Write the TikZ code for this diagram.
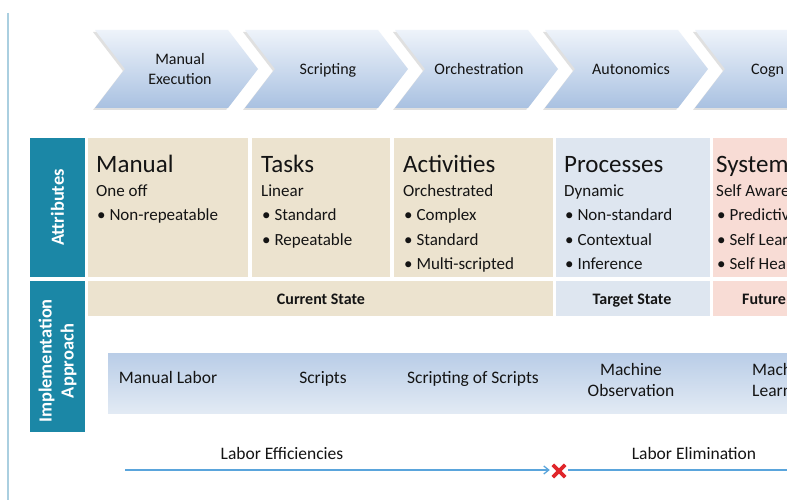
\documentclass[tikz,border=0pt]{standalone}
\usepackage{fontspec}
\setmainfont{Carlito}
\usetikzlibrary{arrows.meta}
\definecolor{teal1}{HTML}{1B87A6}
\definecolor{beige1}{HTML}{ECE3CF}
\definecolor{bluegray1}{HTML}{DEE6F0}
\definecolor{pink1}{HTML}{F8DCD5}
\definecolor{bandtop}{HTML}{B9CDE7}
\definecolor{bandbot}{HTML}{E2EAF4}
\definecolor{chevtop}{HTML}{EEF3FA}
\definecolor{chevbot}{HTML}{A9C1E1}
\definecolor{arrowblue}{HTML}{5AA5DC}
\definecolor{leftline}{HTML}{AACFE0}
\definecolor{txt}{HTML}{141414}
\definecolor{xred}{HTML}{E0262B}
\tikzset{
  chevtext/.style={anchor=base, inner sep=0pt, text=txt, font=\fontsize{16}{16}\selectfont},
  hd/.style={anchor=base west, inner sep=0pt, text=txt, font=\fontsize{25}{25}\selectfont},
  bd/.style={anchor=base west, inner sep=0pt, text=txt, font=\fontsize{17}{17}\selectfont},
  statetext/.style={anchor=base, inner sep=0pt, text=txt, font=\fontsize{16}{16}\selectfont\bfseries},
  bandtext/.style={anchor=base, inner sep=0pt, text=txt, font=\fontsize{17.5}{17.5}\selectfont},
  sidelabel/.style={inner sep=0pt, text=white, rotate=90, align=center, font=\fontsize{18.5}{22}\selectfont\bfseries},
  xm/.style={inner sep=0pt, minimum size=12pt},
}
\begin{document}
\begin{tikzpicture}[x=1pt,y=-1pt]
\useasboundingbox (0,0) rectangle (787,500);
\fill[white] (0,0) rectangle (787,500);
\clip (0,0) rectangle (787,500);
% left line
\draw[leftline, line width=1.2pt] (8,13) -- (8,500);
% chevrons
\foreach \x in {95,245,395,545,695}{
  \fill[black!12] (\x-2,32) -- (\x+131,32) -- (\x+161,71) -- (\x+131,110) -- (\x-2,110) -- (\x+28,71) -- cycle;
  \shade[top color=chevtop, bottom color=chevbot] (\x,30) -- (\x+133,30) -- (\x+163,69) -- (\x+133,108) -- (\x,108) -- (\x+30,69) -- cycle;
}
\node[chevtext] (c1a) at (180,65) {Manual};
\node[chevtext] (c1b) at (180,85) {Execution};
\node[chevtext] (c2) at (328,75) {Scripting};
\node[chevtext] (c3) at (479,75) {Orchestration};
\node[chevtext] (c4) at (631,75) {Autonomics};
\node[chevtext, anchor=base west] (c5) at (751,75) {Cogn};
% side labels
\fill[teal1] (30,138) rectangle (85,277);
\fill[teal1] (30,281) rectangle (85,432);
\node[sidelabel] (attr) at (57.5,207.5) {Attributes};
\node[sidelabel] (impl) at (57.5,361) {Implementation\\Approach};
% attribute cells
\fill[beige1] (88,138) rectangle (248,277);
\fill[beige1] (252,138) rectangle (390,277);
\fill[beige1] (394,138) rectangle (553,277);
\fill[bluegray1] (556,138) rectangle (710,277);
\fill[pink1] (713,138) rectangle (787,277);
% state row
\fill[beige1] (88,281) rectangle (553,316);
\fill[bluegray1] (556,281) rectangle (710,316);
\fill[pink1] (713,281) rectangle (787,316);
% cell texts
\node[hd] (h1) at (96,172) {Manual};
\node[bd] (s1) at (96,196) {One off};
\node[bd] (b11) at (97,220.5) {\textbullet\ Non-repeatable};
\node[hd] (h2) at (261,172) {Tasks};
\node[bd] (s2) at (261,196) {Linear};
\node[bd] (b21) at (262,220.5) {\textbullet\ Standard};
\node[bd] (b22) at (262,245) {\textbullet\ Repeatable};
\node[hd] (h3) at (403,172) {Activities};
\node[bd] (s3) at (403,196) {Orchestrated};
\node[bd] (b31) at (404,220.5) {\textbullet\ Complex};
\node[bd] (b32) at (404,245) {\textbullet\ Standard};
\node[bd] (b33) at (404,269.5) {\textbullet\ Multi-scripted};
\node[hd] (h4) at (564,172) {Processes};
\node[bd] (s4) at (564,196) {Dynamic};
\node[bd] (b41) at (565,220.5) {\textbullet\ Non-standard};
\node[bd] (b42) at (565,245) {\textbullet\ Contextual};
\node[bd] (b43) at (565,269.5) {\textbullet\ Inference};
\node[hd] (h5) at (716,172) {System};
\node[bd] (s5) at (716,196) {Self Aware};
\node[bd] (b51) at (717,220.5) {\textbullet\ Predictiv};
\node[bd] (b52) at (717,245) {\textbullet\ Self Lear};
\node[bd] (b53) at (717,269.5) {\textbullet\ Self Hea};
\node[statetext] (cur) at (321,304) {Current State};
\node[statetext] (tgt) at (632,304) {Target State};
\node[statetext, anchor=base west] (fut) at (742,304) {Future};
% implementation band
\shade[top color=bandtop, bottom color=bandbot] (108,353) rectangle (787,413);
\node[bandtext] (i1) at (168,383) {Manual Labor};
\node[bandtext] (i2) at (323,383) {Scripts};
\node[bandtext] (i3) at (473,383) {Scripting of Scripts};
\node[bandtext] (i4a) at (631,375) {Machine};
\node[bandtext] (i4b) at (631,396) {Observation};
\node[bandtext, anchor=base west] (i5a) at (752,375) {Mach};
\node[bandtext, anchor=base west] (i5b) at (752,396) {Learn};
% bottom arrow
\node[bandtext] (eff) at (282,459) {Labor Efficiencies};
\node[bandtext] (elim) at (694,459) {Labor Elimination};
\coordinate (ls) at (125,470);
\coordinate (le) at (790,470);
\node[xm] (xmark) at (559,471) {};
\draw[xred, line width=3.6pt] (xmark.north west) -- (xmark.south east);
\draw[xred, line width=3.6pt] (xmark.north east) -- (xmark.south west);
\draw[arrowblue, line width=1.3pt, -{Straight Barb[length=5pt,width=8pt,line width=1.3pt]}] (ls) -- ([xshift=-3pt]xmark.west |- ls);
\draw[arrowblue, line width=1.3pt] ([xshift=3pt]xmark.east |- le) -- (le);
\end{tikzpicture}
\end{document}
